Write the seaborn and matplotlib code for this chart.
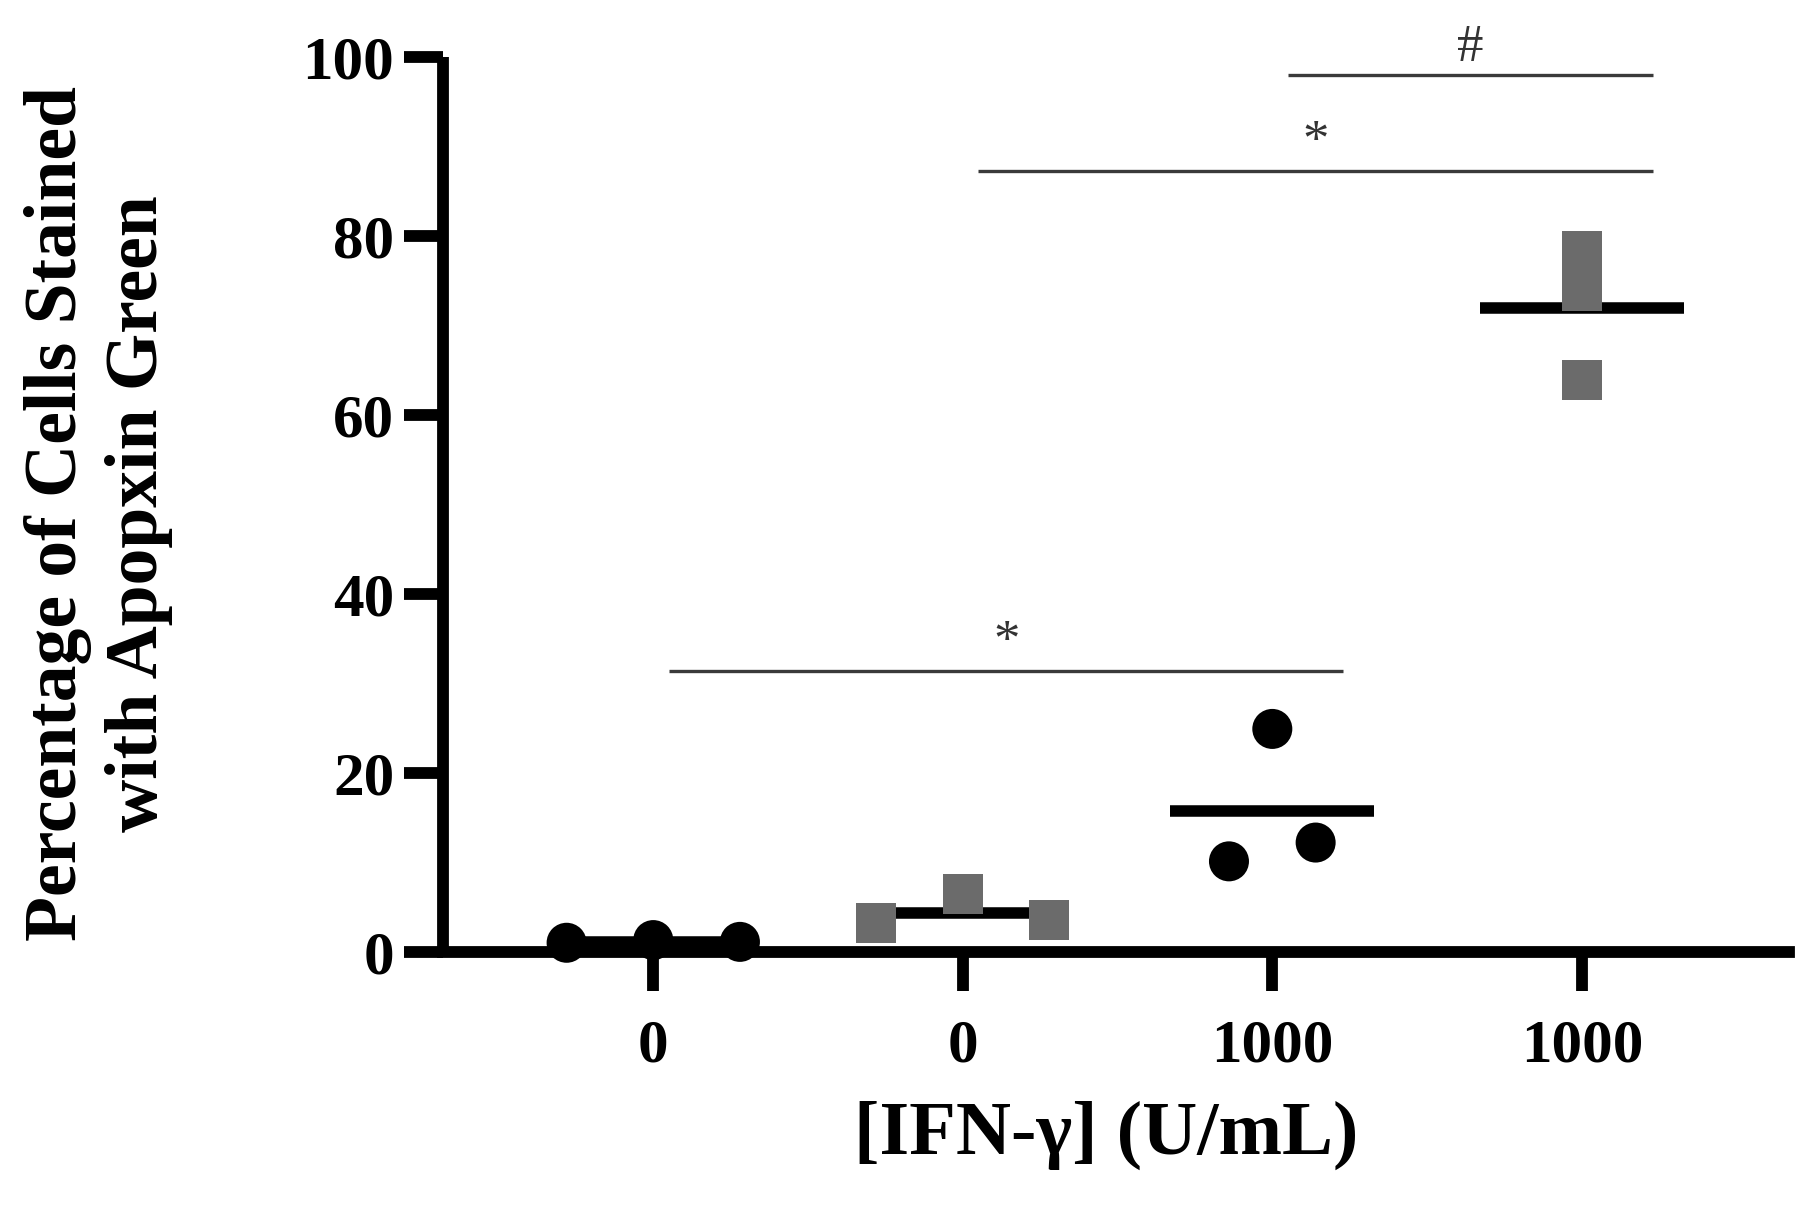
import numpy as np
import pandas as pd
import matplotlib
matplotlib.use("Agg")
import matplotlib.pyplot as plt
import seaborn as sns

# ---------------- data ----------------
tick_labels = ["0", "0", "1000", "1000"]
group_names = ["ctrl_0", "treat_0", "ctrl_1000", "treat_1000"]
g1_values = [1.0, 1.3, 1.1]
g2_values = [3.2, 6.4, 3.5]
g3_values = [24.9, 10.1, 12.2]
g4_values = [78.3, 73.8, 63.9]
group_markers = ["o", "s", "o", "s"]
group_colors = ["#000000", "#6b6b6b", "#000000", "#6b6b6b"]

# significance brackets (category indices, height, label)
sig_from = [0, 1, 2]
sig_to = [2, 3, 3]
sig_y = [31.4, 87.3, 98.0]
sig_text = ["*", "*", "#"]

x_label = "[IFN-γ] (U/mL)"
y_label = "Percentage of Cells Stained\nwith Apopxin Green"

# ---------------- layout helpers ----------------
def spread(values, bin_width=7.5, step=0.28):
    """GraphPad-like scatter: points falling in the same y-bin are spread sideways."""
    v = np.asarray(values, dtype=float)
    bins = np.floor(v / bin_width)
    offs = np.zeros(len(v))
    for b in np.unique(bins):
        idx = np.where(bins == b)[0]
        n = len(idx)
        offs[idx] = (np.arange(n) - (n - 1) / 2) * step
    return offs

all_values = [g1_values, g2_values, g3_values, g4_values]
rows = []
for gi, (name, vals) in enumerate(zip(group_names, all_values)):
    offs = spread(vals)
    for v, o in zip(vals, offs):
        rows.append({"group": name, "value": v, "xpos": gi + o})
df = pd.DataFrame(rows)

# ---------------- style ----------------
sns.set_theme(style="ticks")
plt.rcParams["font.family"] = ["Liberation Serif", "DejaVu Serif"]
plt.rcParams["font.weight"] = "bold"

LW = 8.5
fig = plt.figure(figsize=(18, 12.07), dpi=100)
ax = fig.add_axes([0.246, 0.2115, 0.748, 0.7413])

mean_half = 0.33
means = [np.mean(v) for v in all_values]
ax.hlines(means, np.arange(4) - mean_half, np.arange(4) + mean_half,
          colors="black", linewidth=8.3, zorder=3, clip_on=False)

sns.scatterplot(data=df, x="xpos", y="value", hue="group", style="group",
                palette=dict(zip(group_names, group_colors)),
                markers=dict(zip(group_names, group_markers)),
                s=830, linewidth=0, legend=False, ax=ax, zorder=4, clip_on=False)

# significance brackets
for a, b, y, t in zip(sig_from, sig_to, sig_y, sig_text):
    x0, x1 = a + 0.05, b + 0.23
    ax.plot([x0, x1], [y, y], color="#3a3a3a", linewidth=2.4, clip_on=False,
            solid_capstyle="butt", zorder=2)
    ax.text((x0 + x1) / 2, y + 1.6, t, ha="center", va="baseline",
            fontsize=38, fontweight="normal", color="#333333", clip_on=False)

ax.set_xlim(-0.68, 3.67)
ax.set_ylim(0, 100)
ax.set_xticks(range(4))
ax.set_xticklabels(tick_labels)
ax.set_yticks(np.arange(0, 101, 20))

sns.despine(ax=ax)
for side in ["left", "bottom"]:
    ax.spines[side].set_linewidth(LW)
    ax.spines[side].set_color("black")
    ax.spines[side].set_capstyle("projecting")
ax.spines["left"].set_capstyle("butt")

ax.tick_params(axis="both", width=LW, length=28, color="black",
               labelsize=44, labelcolor="black")
ax.tick_params(axis="y", pad=7)
ax.tick_params(axis="x", pad=20)
for lab in ax.get_xticklabels() + ax.get_yticklabels():
    lab.set_fontweight("bold")

ax.set_xlabel(x_label, fontsize=55, fontweight="bold", color="black")
ax.xaxis.set_label_coords(0.493, -0.166)
ax.set_ylabel(y_label, fontsize=53, fontweight="bold", color="black",
              linespacing=1.25)
ax.yaxis.set_label_coords(-0.2006, 0.49)

ax.set_facecolor("white")
fig.patch.set_facecolor("white")
fig.savefig("out.png", dpi=100, facecolor="white")
